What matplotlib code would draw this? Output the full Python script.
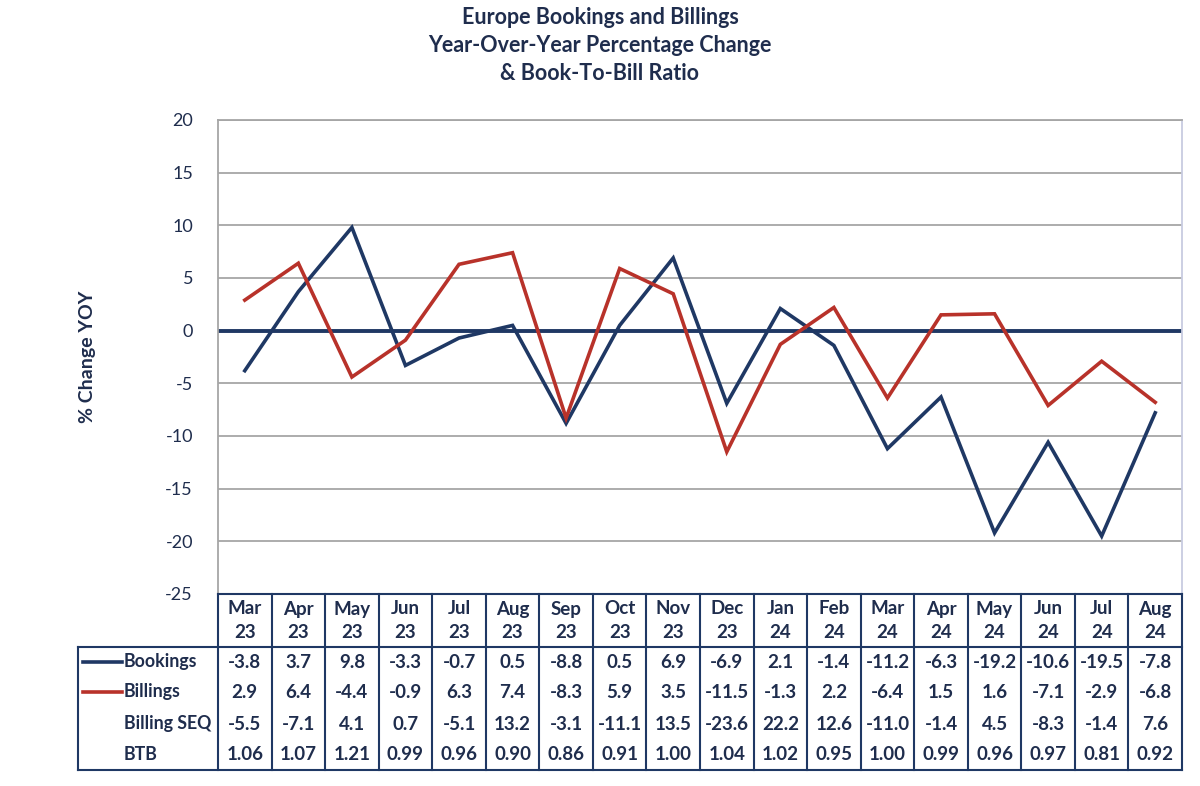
import matplotlib
matplotlib.use("Agg")
import matplotlib.pyplot as plt

months = ["Mar\n23", "Apr\n23", "May\n23", "Jun\n23", "Jul\n23", "Aug\n23", "Sep\n23", "Oct\n23",
          "Nov\n23", "Dec\n23", "Jan\n24", "Feb\n24", "Mar\n24", "Apr\n24", "May\n24", "Jun\n24",
          "Jul\n24", "Aug\n24"]
bookings = [-3.8, 3.7, 9.8, -3.3, -0.7, 0.5, -8.8, 0.5, 6.9, -6.9, 2.1, -1.4, -11.2, -6.3, -19.2, -10.6, -19.5, -7.8]
billings = [2.9, 6.4, -4.4, -0.9, 6.3, 7.4, -8.3, 5.9, 3.5, -11.5, -1.3, 2.2, -6.4, 1.5, 1.6, -7.1, -2.9, -6.8]
billing_seq = [-5.5, -7.1, 4.1, 0.7, -5.1, 13.2, -3.1, -11.1, 13.5, -23.6, 22.2, 12.6, -11.0, -1.4, 4.5, -8.3, -1.4, 7.6]
btb = [1.06, 1.07, 1.21, 0.99, 0.96, 0.90, 0.86, 0.91, 1.00, 1.04, 1.02, 0.95, 1.00, 0.99, 0.96, 0.97, 0.81, 0.92]
yticks = [20, 15, 10, 5, 0, -5, -10, -15, -20, -25]

NAVY = "#1F3864"
RED = "#B8322A"
TXT = "#1F2D4D"
GRID = "#A6A6A6"
FONT = "Lato"

W, H = 1200, 786
fig = plt.figure(figsize=(12, 7.86), dpi=100)
fig.patch.set_facecolor("white")

L, R, T, B = 218, 1182, 120, 594
ax = fig.add_axes([L / W, 1 - B / H, (R - L) / W, (B - T) / H])
n = len(months)
x = list(range(n))
ax.set_xlim(-0.5, n - 0.5)
ax.set_ylim(-25, 20)
ax.set_yticks(yticks)
ax.set_yticklabels([str(v) for v in yticks], fontsize=13, color=TXT, family=FONT)
ax.set_xticks([])
ax.tick_params(axis="y", length=0, pad=18)
ax.grid(axis="y", color=GRID, linewidth=1.3)
ax.set_axisbelow(True)
for s in ["left", "top", "right"]:
    ax.spines[s].set_color(GRID)
    ax.spines[s].set_linewidth(1.3)
ax.spines["right"].set_color("#C8CCE0")
ax.spines["bottom"].set_visible(False)
ax.axhline(0, color=NAVY, linewidth=2.8, zorder=2)
ax.plot(x, bookings, color=NAVY, linewidth=2.6, zorder=3, solid_joinstyle="miter")
ax.plot(x, billings, color=RED, linewidth=2.6, zorder=3, solid_joinstyle="miter")
ax.set_ylabel("% Change YOY", fontsize=14, fontweight="bold", color=TXT, family=FONT, labelpad=50)

for yy, s in [(17, "Europe Bookings and Billings"), (45, "Year-Over-Year Percentage Change"),
              (73, "& Book-To-Bill Ratio")]:
    fig.text(0.5, 1 - yy / H, s, ha="center", va="center",
             fontsize=15.5, fontweight="bold", color=TXT, family=FONT)

# table axes
TL, TB = 78, 770
unit = (R - L) / n
tax = fig.add_axes([TL / W, 1 - TB / H, (R - TL) / W, (TB - B) / H])
x0 = -0.5 - (L - TL) / unit
tax.set_xlim(x0, n - 0.5)
tax.set_ylim(TB, B)
tax.axis("off")
HDR = 647
lc = NAVY
lw = 1.5
for i in range(n + 1):
    tax.plot([i - 0.5, i - 0.5], [B, TB], color=lc, linewidth=lw, clip_on=False)
tax.plot([x0, x0], [HDR, TB], color=lc, linewidth=lw, clip_on=False)
tax.plot([-0.5, n - 0.5], [B, B], color=lc, linewidth=lw, clip_on=False)
tax.plot([x0, n - 0.5], [HDR, HDR], color=lc, linewidth=lw, clip_on=False)
tax.plot([x0, n - 0.5], [TB, TB], color=lc, linewidth=lw, clip_on=False)

FS = 13.5
for i, m in enumerate(months):
    a, b = m.split("\n")
    tax.text(i, 609, a, ha="center", va="center", fontsize=FS, fontweight="bold", color=TXT, family=FONT)
    tax.text(i, 633, b, ha="center", va="center", fontsize=FS, fontweight="bold", color=TXT, family=FONT)

rows = [("Bookings", bookings, "{:.1f}", NAVY), ("Billings", billings, "{:.1f}", RED),
        ("Billing SEQ", billing_seq, "{:.1f}", None), ("BTB", btb, "{:.2f}", None)]
ycs = [662, 692, 724, 755]
lab_x = x0 + (124 - TL) / unit
for (name, vals, fmt, col), yc in zip(rows, ycs):
    if col is not None:
        tax.plot([x0 + 5 / unit, x0 + 44 / unit], [yc, yc], color=col, linewidth=2.6)
    tax.text(lab_x, yc, name, ha="left", va="center", fontsize=12.8, fontweight="bold", color=TXT, family=FONT)
    for i, v in enumerate(vals):
        tax.text(i, yc, fmt.format(v), ha="center", va="center", fontsize=FS, fontweight="bold",
                 color=TXT, family=FONT)

fig.savefig("out.png", dpi=100, facecolor="white")
